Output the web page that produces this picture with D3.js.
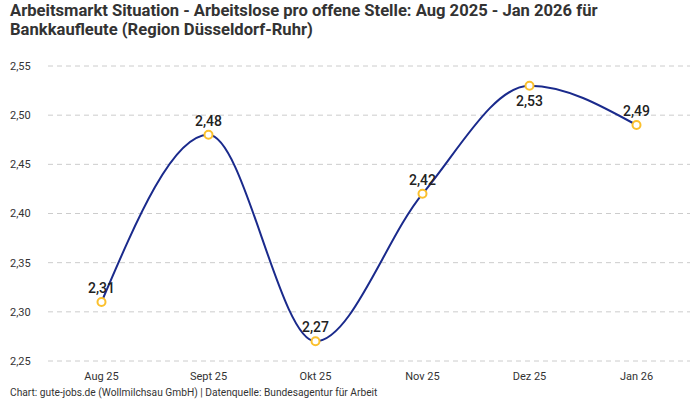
<!DOCTYPE html>
<html>
<head>
<meta charset="utf-8">
<script src="https://cdn.jsdelivr.net/npm/d3@7"></script>
<style>
  body { margin: 0; background: #fff; }
  svg { display: block; font-family: Roboto, "Noto Sans", sans-serif; }
</style>
</head>
<body>
<div id="chart"></div>
<script>
// Data
const months = ['Aug 25', 'Sept 25', 'Okt 25', 'Nov 25', 'Dez 25', 'Jan 26']
const values = [2.31, 2.48, 2.27, 2.42, 2.53, 2.49]
const yTicks = [2.25, 2.30, 2.35, 2.40, 2.45, 2.50, 2.55]
const titleLines = [
  'Arbeitsmarkt Situation - Arbeitslose pro offene Stelle: Aug 2025 - Jan 2026 für',
  'Bankkaufleute (Region Düsseldorf-Ruhr)'
]

const width = 700
const height = 400
const margin = { top: 66, right: 10, bottom: 39, left: 48 }

const svg = d3.select('#chart').append('svg')
  .attr('width', width)
  .attr('height', height)

// Title, one text per line
svg.append('g')
  .selectAll('text')
  .data(titleLines)
  .join('text')
  .attr('x', 10)
  .attr('y', (d, i) => 16 + i * 19)
  .attr('font-size', 16.6)
  .attr('font-weight', 700)
  .attr('fill', '#333')
  .text(d => d)

// Scales
const x = d3.scalePoint()
  .domain(months)
  .range([margin.left, width - margin.right])
  .padding(0.5)

const y = d3.scaleLinear()
  .domain([2.25, 2.55])
  .range([height - margin.bottom, margin.top])

const fmt = v => d3.format('.2f')(v).replace('.', ',')

// Y gridlines
svg.append('g')
  .selectAll('line')
  .data(yTicks)
  .join('line')
  .attr('x1', margin.left)
  .attr('x2', width - margin.right)
  .attr('y1', d => y(d))
  .attr('y2', d => y(d))
  .attr('stroke', '#ccc')
  .attr('stroke-dasharray', '5,4')

// Y labels
svg.append('g')
  .selectAll('text')
  .data(yTicks)
  .join('text')
  .attr('x', 10)
  .attr('y', d => y(d))
  .attr('dy', '0.35em')
  .attr('font-size', 11)
  .attr('fill', '#333')
  .text(d => fmt(d))

// X labels
svg.append('g')
  .selectAll('text')
  .data(months)
  .join('text')
  .attr('x', d => x(d))
  .attr('y', 380)
  .attr('text-anchor', 'middle')
  .attr('font-size', 11)
  .attr('fill', '#333')
  .text(d => d)

// Line
const line = d3.line()
  .x((d, i) => x(months[i]))
  .y(d => y(d))
  .curve(d3.curveMonotoneX)

svg.append('path')
  .datum(values)
  .attr('fill', 'none')
  .attr('stroke', '#1a2a8c')
  .attr('stroke-width', 2)
  .attr('d', line)

// Points
svg.append('g')
  .selectAll('circle')
  .data(values)
  .join('circle')
  .attr('cx', (d, i) => x(months[i]))
  .attr('cy', d => y(d))
  .attr('r', 4)
  .attr('fill', '#fff')
  .attr('stroke', '#fbc02d')
  .attr('stroke-width', 2)

// Value labels (max one below)
const maxV = d3.max(values)
svg.append('g')
  .selectAll('text')
  .data(values)
  .join('text')
  .attr('x', (d, i) => x(months[i]))
  .attr('y', d => d === maxV ? y(d) + 20 : y(d) - 9)
  .attr('text-anchor', 'middle')
  .attr('font-size', 14)
  .attr('font-weight', 500)
  .attr('fill', '#222')
  .text(d => fmt(d))

// Footer
svg.append('text')
  .attr('x', 10)
  .attr('y', 396)
  .attr('font-size', 10.2)
  .attr('fill', '#333')
  .text('Chart: gute-jobs.de (Wollmilchsau GmbH) | Datenquelle: Bundesagentur für Arbeit')
</script>
</body>
</html>
